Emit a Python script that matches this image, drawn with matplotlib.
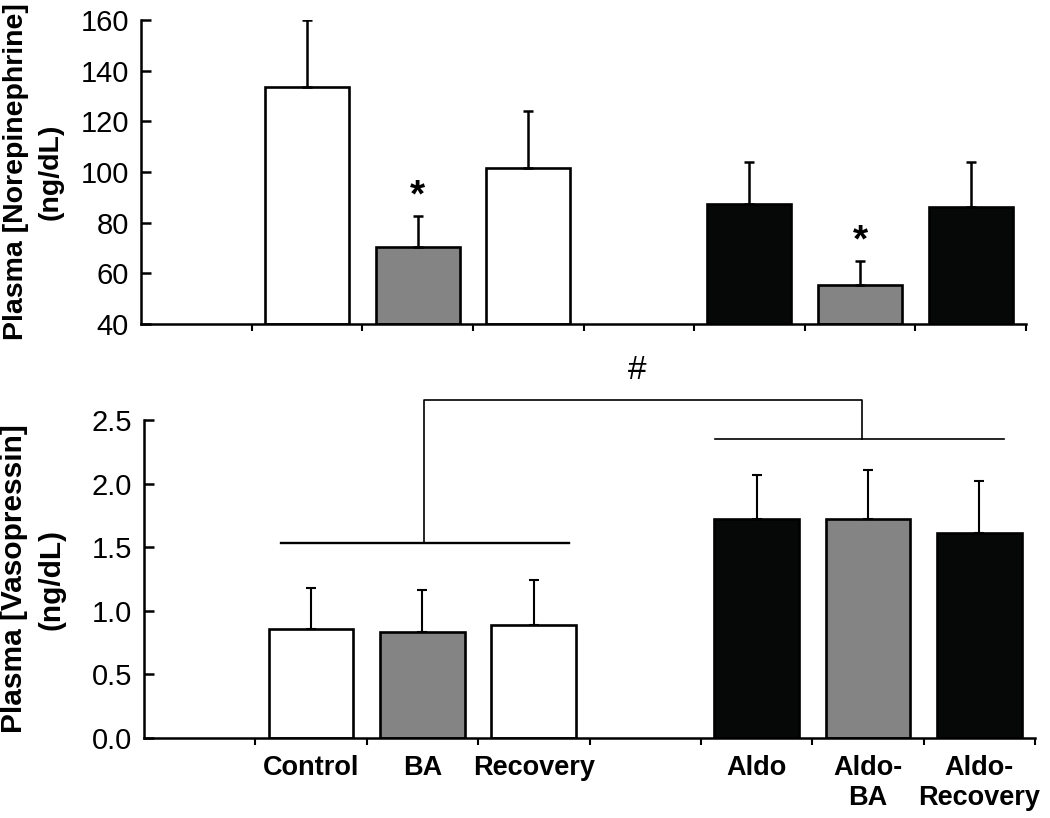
import numpy as np
import matplotlib
matplotlib.use('Agg')
import matplotlib.pyplot as plt

plt.rcParams['font.family'] = ['Liberation Sans', 'DejaVu Sans']

# categories (slot 0 and slot 4 stay empty)
labels = ['Control', 'BA', 'Recovery', 'Aldo', 'Aldo-\nBA', 'Aldo-\nRecovery']
slots = [1, 2, 3, 5, 6, 7]
colors = ['white', '#838483', 'white', '#060807', '#838483', '#060807']

ne_mean = [133.5, 70.5, 101.6, 87.4, 55.4, 86.2]
ne_sem = [26.5, 12.1, 22.4, 16.6, 9.5, 17.8]
ne_star = [1, 4]          # indices with * above

avp_mean = [0.86, 0.83, 0.89, 1.72, 1.72, 1.61]
avp_sem = [0.32, 0.33, 0.35, 0.35, 0.39, 0.41]

W, H = 1050, 818
fig = plt.figure(figsize=(W / 100, H / 100), dpi=100)
ax1 = fig.add_axes([141 / W, 1 - 324 / H, 885 / W, 304 / H])
ax2 = fig.add_axes([144 / W, 1 - 738 / H, 891 / W, 318 / H])

centers = np.array(slots) + 0.5


def draw_panel(ax, means, sems, base, lw_err):
    ax.bar(centers, np.array(means) - base, bottom=base, width=0.76,
           color=colors, edgecolor='black', linewidth=1.9, zorder=2)
    ax.errorbar(centers, means, yerr=[np.zeros(len(sems)), sems], fmt='none',
                ecolor='black', elinewidth=lw_err, capsize=3.6, capthick=lw_err,
                zorder=3)
    ax.set_xlim(0, 8)
    for s in ['top', 'right']:
        ax.spines[s].set_visible(False)
    for s in ['left', 'bottom']:
        ax.spines[s].set_linewidth(1.8)
    ax.set_xticks(np.arange(1, 9))
    ax.set_xticklabels([])
    ax.tick_params(axis='x', which='major', direction='out', length=5, width=1.5)
    ax.tick_params(axis='y', direction='in', length=7, width=1.8, pad=8.6,
                   labelsize=21)


draw_panel(ax1, ne_mean, ne_sem, 40, 1.8)
ax1.set_ylim(40, 160)
ax1.set_yticks(np.arange(40, 161, 20))
for i in ne_star:
    ax1.text(centers[i], ne_mean[i] + ne_sem[i] + 7.8, '*', ha='center',
             va='center', fontsize=28, fontweight='bold')
ax1.set_ylabel('Plasma [Norepinephrine]\n(ng/dL)', fontsize=20.5,
               fontweight='bold', linespacing=1.45, va='center')
ax1.yaxis.set_label_coords(-0.122, 0.5)

draw_panel(ax2, avp_mean, avp_sem, 0, 1.5)
ax2.set_ylim(0, 2.5)
ax2.set_yticks(np.arange(0, 2.51, 0.5))
ax2.set_yticklabels(['%.1f' % v for v in np.arange(0, 2.51, 0.5)])
ax2.set_xticks(centers, labels, minor=True)
ax2.tick_params(axis='x', which='minor', length=0, pad=12, labelsize=19.5)
for t in ax2.get_xticklabels(minor=True):
    t.set_fontweight('bold')
ax2.set_ylabel('Plasma [Vasopressin]\n(ng/dL)', fontsize=21.5,
               fontweight='bold', linespacing=1.45, va='center')
ax2.yaxis.set_label_coords(-0.1246, 0.5)

# group comparison bracket
ax2.plot([1.23, 3.82], [1.533, 1.533], color='black', lw=1.7, clip_on=False)
ax2.plot([5.13, 7.72], [2.35, 2.35], color='black', lw=1.2, clip_on=False)
ax2.plot([2.51, 2.51, 6.45, 6.45], [1.533, 2.657, 2.657, 2.35],
         color='black', lw=1.2, clip_on=False)
ax2.text(4.43, 2.89, '#', ha='center', va='center', fontsize=24)

fig.savefig('out.png', dpi=100)
